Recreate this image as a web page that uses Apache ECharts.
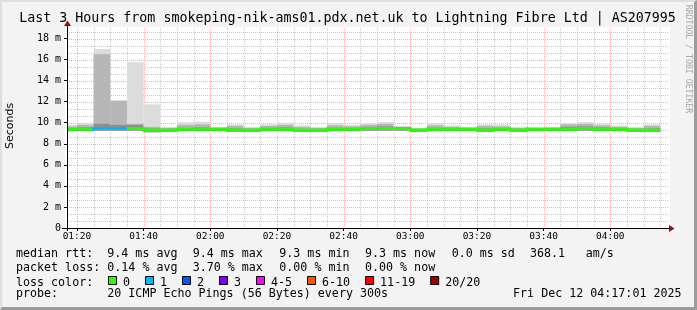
<!DOCTYPE html>
<html><head><meta charset="utf-8">
<script src="https://cdn.jsdelivr.net/npm/echarts@6/dist/echarts.min.js"></script>
<style>
html,body{margin:0;padding:0;width:697px;height:310px;overflow:hidden;background:#f3f3f3}
#c{position:absolute;left:0;top:0;width:697px;height:310px}
#bd{position:absolute;left:0;top:0;width:697px;height:310px;box-sizing:border-box;border-top:2px solid #dedede;border-left:2px solid #dedede;border-right:3px solid #9c9c9c;border-bottom:3px solid #9c9c9c;pointer-events:none}
</style></head><body><div id="c"></div><div id="bd"></div>
<script>
// ---- data ----
const slotEnds = ['01:20','01:25','01:30','01:35','01:40','01:45','01:50','01:55','02:00','02:05','02:10','02:15',
  '02:20','02:25','02:30','02:35','02:40','02:45','02:50','02:55','03:00','03:05','03:10','03:15',
  '03:20','03:25','03:30','03:35','03:40','03:45','03:50','03:55','04:00','04:05','04:10','04:15'];
const medianRtt = [9.4,9.4,9.45,9.45,9.45,9.3,9.3,9.4,9.4,9.4,9.3,9.3,9.4,9.4,9.3,9.3,9.4,9.4,
  9.45,9.45,9.45,9.3,9.4,9.4,9.4,9.3,9.4,9.3,9.4,9.4,9.4,9.45,9.4,9.4,9.3,9.3];
const minRtt = [9.2,9.2,9.25,9.25,9.25,9.1,9.15,9.2,9.2,9.2,9.15,9.15,9.2,9.2,9.15,9.15,9.2,9.2,
  9.25,9.25,9.25,9.15,9.2,9.2,9.2,9.15,9.2,9.15,9.2,9.2,9.2,9.25,9.2,9.2,9.15,9.15];
const innerRtt = [9.5,9.55,9.9,9.8,9.8,9.45,9.4,9.5,9.55,9.45,9.45,9.4,9.5,9.55,9.4,9.4,9.5,9.5,
  9.6,9.65,9.55,9.4,9.5,9.5,9.45,9.45,9.5,9.4,9.45,9.5,9.6,9.65,9.55,9.5,9.4,9.45];
const midRtt = [9.65,9.8,16.5,12.1,9.9,9.6,9.5,9.8,9.85,9.5,9.7,9.5,9.7,9.8,9.6,9.5,9.75,9.65,
  9.8,9.9,9.6,9.45,9.75,9.6,9.5,9.7,9.65,9.5,9.5,9.5,9.85,9.9,9.75,9.6,9.5,9.7];
const maxRtt = [9.8,10.0,17.0,12.1,15.75,11.75,9.6,10.05,10.1,9.6,9.85,9.6,9.85,10.0,9.75,9.6,9.95,9.8,
  9.95,10.05,9.7,9.5,9.95,9.75,9.6,9.85,9.85,9.6,9.55,9.6,9.95,10.05,9.9,9.75,9.6,9.85];
const lossPct = [0,0,3.7,1.3,0,0,0,0,0,0,0,0,0,0,0,0,0,0,0,0,0,0,0,0,0,0,0,0,0,0,0,0,0,0,0,0];
const xTickLabels = ['01:20','01:40','02:00','02:20','02:40','03:00','03:20','03:40','04:00'];
const yTickValues = [0,2,4,6,8,10,12,14,16,18];
const lossLegend = ['0','1','2','3','4-5','6-10','11-19','20/20'];
const lossColors = ['#26ff00','#00b8ff','#0059ff','#7e00ff','#ff00ff','#ff5500','#ff0000','#a10000'];
const axisStart = '01:17:01', axisEnd = '04:17:01';
const titleText = 'Last 3 Hours from smokeping-nik-ams01.pdx.net.uk to Lightning Fibre Ltd | AS207995';
const rttLine = ['median rtt:','9.4 ms avg','9.4 ms max','9.3 ms min','9.3 ms now','0.0 ms sd','368.1','am/s'];
const lossLine = ['packet loss:','0.14 % avg','3.70 % max','0.00 % min','0.00 % now'];
const probeLine = ['probe:','20 ICMP Echo Pings (56 Bytes) every 300s'];
const stampText = 'Fri Dec 12 04:17:01 2025';

// ---- helpers ----
function toMin(s){ const p=s.split(':').map(Number); return p[0]*60+p[1]+(p[2]||0)/60; }
function fmt(v){ const m=Math.round(v); const h=Math.floor(m/60), mm=m%60; return String(h).padStart(2,'0')+':'+String(mm).padStart(2,'0'); }
function lossIndex(pct){ const n=pct*20/100; if(n<=0)return 0; if(n<=1)return 1; if(n<=2)return 2; if(n<=3)return 3; if(n<=5)return 4; if(n<=10)return 5; if(n<20)return 6; return 7; }

const xMin = toMin(axisStart), xMax = toMin(axisEnd);
const xTickVals = xTickLabels.map(toMin);
const xMinorVals = [];
for (let t = xTickVals[0]; t <= toMin(slotEnds[slotEnds.length-1]) + 0.01; t += 5) {
  if (!xTickVals.some(v => Math.abs(v - t) < 0.01)) xMinorVals.push(t);
}
const yMinorVals = [];
for (let k = 1; k <= 28; k++) { if (k % 3 !== 0) yMinorVals.push(k*2/3); }

const smokeData = slotEnds.map((e,i) => [toMin(e)-5, toMin(e), minRtt[i], innerRtt[i], midRtt[i], maxRtt[i]]);
const medData = slotEnds.map((e,i) => [toMin(e)-5, toMin(e), medianRtt[i], i>0?medianRtt[i-1]:medianRtt[i], lossIndex(lossPct[i])]);

const G = {left:67, top:28, width:600, height:200};
const MONO = '"DejaVu Sans Mono", monospace';
const SMOKE = ['#dcdcdc','#b6b6b6','#8e8e8e'];
const MAJOR = 'rgba(240,70,70,0.45)', MINOR = '#c9c9c9';

function clampX(cs, a, b){ return [Math.max(a, cs.x), Math.min(b, cs.x+cs.width)]; }

function smokeItem(params, api){
  const cs = params.coordSys;
  const s = api.value(0), e = api.value(1);
  const [x0, x1] = clampX(cs, api.coord([s,0])[0], api.coord([e,0])[0]);
  const lo = api.value(2);
  const tops = [api.value(5), api.value(4), api.value(3)];
  const children = tops.map((hi, k) => {
    const y0 = api.coord([s,hi])[1], y1 = api.coord([s,lo])[1];
    return {type:'rect', shape:{x:x0, y:y0, width:x1-x0, height:y1-y0}, style:{fill:SMOKE[k]}};
  });
  return {type:'group', children};
}
function medItem(params, api){
  const cs = params.coordSys;
  const s = api.value(0), e = api.value(1);
  const [x0, x1] = clampX(cs, api.coord([s,0])[0], api.coord([e,0])[0]);
  const y = api.coord([s, api.value(2)])[1];
  const yp = api.coord([s, api.value(3)])[1];
  const col = lossColors[api.value(4)];
  const children = [{type:'rect', shape:{x:x0, y:y-1.5, width:x1-x0, height:3}, style:{fill:col}}];
  if (Math.abs(y-yp) > 0.5 && params.dataIndex > 0) {
    children.push({type:'rect', shape:{x:x0-1.5, y:Math.min(y,yp)-1.5, width:3, height:Math.abs(y-yp)+3}, style:{fill:col}});
  }
  return {type:'group', children};
}
function vLine(color){
  return function(params, api){
    const cs = params.coordSys;
    const x = Math.round(api.coord([api.value(0),0])[0]) + 0.5;
    return {type:'line', silent:true, shape:{x1:x, y1:cs.y, x2:x, y2:cs.y+cs.height}, style:{stroke:color, lineWidth:1, lineDash:[1,1]}};
  };
}
function hLine(color){
  return function(params, api){
    const cs = params.coordSys;
    const y = Math.round(api.coord([api.value(0), api.value(1)])[1]) + 0.5;
    return {type:'line', silent:true, shape:{x1:cs.x, y1:y, x2:cs.x+cs.width+1, y2:y}, style:{stroke:color, lineWidth:1, lineDash:[1,1]}};
  };
}

// ---- graphics (texts, frame, arrows) ----
const graphics = [];
graphics.push({type:'rect', z:-10, shape:{x:65, y:27, width:605, height:201}, style:{fill:'#ffffff'}});
graphics.push({type:'text', x:347.5, y:18.5, style:{text:titleText, font:'13.3px '+MONO, fill:'#000', textAlign:'center', textVerticalAlign:'middle'}});
graphics.push({type:'text', x:10.5, y:126, rotation:Math.PI/2, style:{text:'Seconds', font:'11px "DejaVu Sans", sans-serif', fill:'#000', textAlign:'center', textVerticalAlign:'middle'}});
graphics.push({type:'text', x:688, y:59, rotation:-Math.PI/2, style:{text:'RRDTOOL / TOBI OETIKER', font:'8.2px '+MONO, fill:'#a8a8a8', textAlign:'center', textVerticalAlign:'middle'}});
// axis extensions and arrows
graphics.push({type:'line', z:20, shape:{x1:62, y1:228.5, x2:669, y2:228.5}, style:{stroke:'#000', lineWidth:1}});
graphics.push({type:'line', z:20, shape:{x1:67.5, y1:231, x2:67.5, y2:25}, style:{stroke:'#000', lineWidth:1}});
graphics.push({type:'polygon', z:21, shape:{points:[[67.5,20.5],[64,26],[71,26]]}, style:{fill:'#8b1010'}});
graphics.push({type:'polygon', z:21, shape:{points:[[674.5,228.5],[669,225],[669,232]]}, style:{fill:'#8b1010'}});

const legendFont = '11.66px '+MONO;
const colX = [16, 107.3, 192.7, 279.3, 365, 451.7, 530, 585.7];
const rowY = [254, 267.5, 282.5, 294];
function addRow(parts, y){
  parts.forEach((t,i)=>graphics.push({type:'text', x:colX[i], y:y, style:{text:t, font:legendFont, fill:'#000', textVerticalAlign:'middle'}}));
}
addRow(rttLine, rowY[0]);
addRow(lossLine, rowY[1]);
graphics.push({type:'text', x:16, y:rowY[2], style:{text:'loss color:', font:legendFont, fill:'#000', textVerticalAlign:'middle'}});
let bx = 108;
lossLegend.forEach((lab,i)=>{
  graphics.push({type:'rect', shape:{x:bx+0.5, y:276.5, width:8, height:8}, style:{fill:lossColors[i], stroke:'#000', lineWidth:1}});
  graphics.push({type:'text', x:bx+15, y:rowY[2], style:{text:lab, font:legendFont, fill:'#000', textVerticalAlign:'middle'}});
  bx += 37 + (lab.length-1)*7.02;
});
addRow(probeLine, rowY[3]);
graphics.push({type:'text', x:681.5, y:rowY[3], style:{text:stampText, font:legendFont, fill:'#000', textAlign:'right', textVerticalAlign:'middle'}});

const chart = echarts.init(document.getElementById('c'), null, {renderer:'canvas'});
chart.setOption({
  animation:false,
  backgroundColor:'transparent',
  grid:{left:G.left, top:G.top, width:G.width, height:G.height, containLabel:false},
  xAxis:{type:'value', min:xMin, max:xMax, z:10,
    axisLine:{show:true, lineStyle:{color:'#000', width:1}},
    axisTick:{show:true, customValues:xTickVals, length:3, lineStyle:{color:'#000'}},
    axisLabel:{customValues:xTickVals, formatter:v=>fmt(v), fontFamily:MONO, fontSize:9.5, color:'#000', margin:4},
    splitLine:{show:false}},
  yAxis:{type:'value', min:0, max:19, interval:2, z:10,
    axisLine:{show:true, lineStyle:{color:'#000', width:1}},
    axisTick:{show:true, length:3, lineStyle:{color:'#000'}},
    axisLabel:{showMaxLabel:false, formatter:v=>v===0?'0':v+' m', fontFamily:MONO, fontSize:10, color:'#000', margin:6},
    splitLine:{show:false}},
  graphic:graphics,
  series:[
    {type:'custom', name:'minorX', z:1, silent:true, renderItem:vLine(MINOR), data:xMinorVals.map(v=>[v,0]), encode:{x:0,y:1}},
    {type:'custom', name:'minorY', z:1, silent:true, renderItem:hLine(MINOR), data:yMinorVals.map(v=>[xMin,v]), encode:{x:0,y:1}},
    {type:'custom', name:'majorX', z:1, silent:true, renderItem:vLine(MAJOR), data:xTickVals.map(v=>[v,0]), encode:{x:0,y:1}},
    {type:'custom', name:'majorY', z:1, silent:true, renderItem:hLine(MAJOR), data:yTickValues.filter(v=>v>0).map(v=>[xMin,v]), encode:{x:0,y:1}},
    {type:'custom', name:'smoke', z:2, silent:true, renderItem:smokeItem, data:smokeData, encode:{x:[0,1], y:[2,5]}},
    {type:'custom', name:'median', z:3, silent:true, renderItem:medItem, data:medData, encode:{x:[0,1], y:[2,3]}}
  ]
});
</script></body></html>
